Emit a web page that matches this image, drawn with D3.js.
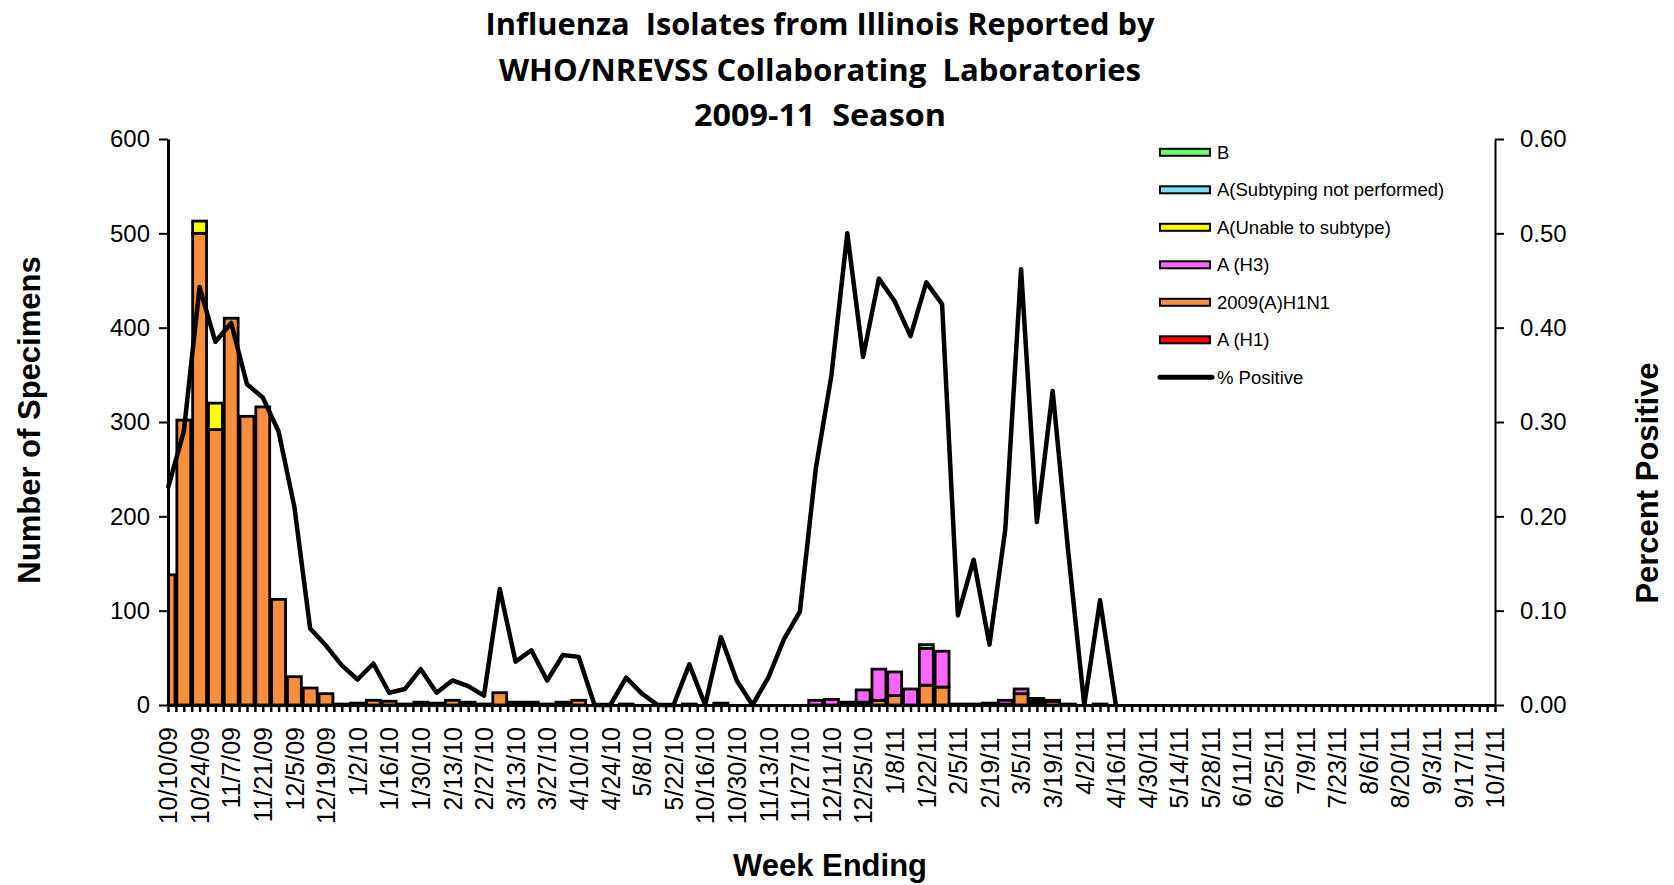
<!DOCTYPE html>
<html>
<head>
<meta charset="utf-8">
<title>Influenza Isolates from Illinois 2009-11</title>
<script src="https://cdn.jsdelivr.net/npm/d3@7"></script>
<style>
  body { margin: 0; background: #fff; }
  svg { display: block; font-family: "Liberation Sans", Arial, sans-serif; }
</style>
</head>
<body>
<script>
// week ending dates (summer 2010 is not in the chart)
const weeks = [
  "10/10/09","10/17/09","10/24/09","10/31/09","11/7/09","11/14/09","11/21/09","11/28/09","12/5/09","12/12/09","12/19/09","12/26/09","1/2/10","1/9/10","1/16/10","1/23/10","1/30/10",
  "2/6/10","2/13/10","2/20/10","2/27/10","3/6/10","3/13/10","3/20/10","3/27/10","4/3/10","4/10/10","4/17/10","4/24/10","5/1/10","5/8/10","5/15/10","5/22/10","5/29/10",
  "10/16/10","10/23/10","10/30/10","11/6/10","11/13/10","11/20/10","11/27/10","12/4/10","12/11/10","12/18/10","12/25/10","1/1/11","1/8/11","1/15/11","1/22/11","1/29/11","2/5/11",
  "2/12/11","2/19/11","2/26/11","3/5/11","3/12/11","3/19/11","3/26/11","4/2/11","4/9/11","4/16/11","4/23/11","4/30/11","5/7/11","5/14/11","5/21/11","5/28/11","6/4/11",
  "6/11/11","6/18/11","6/25/11","7/2/11","7/9/11","7/16/11","7/23/11","7/30/11","8/6/11","8/13/11","8/20/11","8/27/11","9/3/11","9/10/11","9/17/11","9/24/11","10/1/11"
];

const aH1 = [
  0,0,0,0,0,0,0,0,0,0,0,0,0,0,0,0,0,
  0,0,0,0,0,0,0,0,0,0,0,0,0,0,0,0,0,
  0,0,0,0,0,0,0,0,0,0,0,0,0,0,0,0,0,
  0,0,0,0,0,0,0,0,0,0,0,0,0,0,0,0,0,
  0,0,0,0,0,0,0,0,0,0,0,0,0,0,0,0,0
];
const h1n1 = [
  138,302,500,292,410,306,316,112,30,18,12,1,2,5,4,1,3,
  2,5,3,1,13,3,3,1,3,5,0,0,1,0,0,0,1,
  0,1,0,0,0,0,0,0,0,0,3,5,10,0,21,19,1,
  1,1,1,12,3,4,1,0,1,0,0,0,0,0,0,0,0,
  0,0,0,0,0,0,0,0,0,0,0,0,0,0,0,0,0
];
const aH3 = [
  0,0,0,0,0,0,0,0,0,0,0,0,0,0,0,0,0,
  0,0,0,0,0,0,0,0,0,0,0,0,0,0,0,0,0,
  0,1,0,0,0,0,0,5,6,3,13,33,25,17,39,38,0,
  0,1,4,5,1,1,0,0,0,0,0,0,0,0,0,0,0,
  0,0,0,0,0,0,0,0,0,0,0,0,0,0,0,0,0
];
const unable = [
  0,0,13,28,0,0,0,0,0,0,0,0,0,0,0,0,0,
  0,0,0,0,0,0,0,0,0,0,0,0,0,0,0,0,0,
  0,0,0,0,0,0,0,0,0,0,0,0,0,0,0,0,0,
  0,0,0,0,0,0,0,0,0,0,0,0,0,0,0,0,0,
  0,0,0,0,0,0,0,0,0,0,0,0,0,0,0,0,0
];
const notSubtyped = [
  0,0,0,0,0,0,0,0,0,0,0,0,0,0,0,0,0,
  0,0,0,0,0,0,0,0,0,0,0,0,0,0,0,0,0,
  0,0,0,0,0,0,0,0,0,0,0,0,0,0,0,0,0,
  0,0,0,0,0,0,0,0,0,0,0,0,0,0,0,0,0,
  0,0,0,0,0,0,0,0,0,0,0,0,0,0,0,0,0
];
const fluB = [
  0,0,0,0,0,0,0,0,0,0,0,0,0,0,0,0,0,
  0,0,0,0,0,0,0,0,0,0,0,0,0,0,0,0,0,
  0,0,0,0,0,0,0,0,0,0,0,0,0,0,4,0,0,
  0,0,0,0,3,0,0,0,0,0,0,0,0,0,0,0,0,
  0,0,0,0,0,0,0,0,0,0,0,0,0,0,0,0,0
];
const pctPositive = [
  0.23,0.29,0.443,0.385,0.405,0.34,0.326,0.29,0.21,0.081,0.063,0.042,0.027,0.044,0.013,0.017,0.038,
  0.013,0.026,0.020,0.010,0.123,0.046,0.058,0.026,0.053,0.051,0,0,0.029,0.012,0,0,0.043,
  0,0.072,0.026,0,0.029,0.070,0.099,0.25,0.35,0.50,0.369,0.452,0.428,0.391,0.448,0.425,0.095,
  0.154,0.064,0.186,0.462,0.194,0.333,0.16,0,0.111,0,null,null,null,null,null,null,null,
  null,null,null,null,null,null,null,null,null,null,null,null,null,null,null,null,null
];

const leftTicks = [0, 100, 200, 300, 400, 500, 600];
const rightTicks = [0, 0.1, 0.2, 0.3, 0.4, 0.5, 0.6];
const titleLines = ["Influenza  Isolates from Illinois Reported by", "WHO/NREVSS Collaborating  Laboratories", "2009-11  Season"];

const series = [
  {key: "b", label: "B", values: fluB, color: "#66FF66"},
  {key: "notSub", label: "A(Subtyping not performed)", values: notSubtyped, color: "#70E2F8"},
  {key: "unable", label: "A(Unable to subtype)", values: unable, color: "#FFFF00"},
  {key: "h3", label: "A (H3)", values: aH3, color: "#FF66FF"},
  {key: "pdm", label: "2009(A)H1N1", values: h1n1, color: "#F98E3C"},
  {key: "h1", label: "A (H1)", values: aH1, color: "#FF0000"}
];

const W = 1674, H = 885;
const plot = {left: 168, right: 1495, top: 139, bottom: 705};

const svg = d3.select("body").append("svg").attr("width", W).attr("height", H);

const x = d3.scalePoint().domain(weeks).range([plot.left, plot.right]);
const xi = d3.scaleLinear().domain([0, weeks.length - 1]).range([plot.left, plot.right]);
const y = d3.scaleLinear().domain([0, 600]).range([plot.bottom, plot.top]);
const y2 = d3.scaleLinear().domain([0, 0.6]).range([plot.bottom, plot.top]);
const barW = x.step() * 0.88;

// stacked bars, bottom layer first
const rows = weeks.map((w, i) => {
  const r = {week: w};
  series.forEach(s => r[s.key] = s.values[i]);
  return r;
});
const stackKeys = series.map(s => s.key).reverse();
const colorOf = Object.fromEntries(series.map(s => [s.key, s.color]));
const stacked = d3.stack().keys(stackKeys)(rows);

svg.append("clipPath").attr("id", "plotclip")
  .append("rect")
  .attr("x", plot.left).attr("y", plot.top - 5)
  .attr("width", plot.right - plot.left).attr("height", plot.bottom - plot.top + 5);

svg.append("g")
  .attr("clip-path", "url(#plotclip)")
  .selectAll("g")
  .data(stacked)
  .join("g")
  .attr("fill", d => colorOf[d.key])
  .selectAll("rect")
  .data(d => d.filter(s => s[1] - s[0] > 0))
  .join("rect")
  .attr("x", d => x(d.data.week) - barW / 2)
  .attr("y", d => y(d[1]))
  .attr("width", barW)
  .attr("height", d => y(d[0]) - y(d[1]))
  .attr("stroke", "#000")
  .attr("stroke-width", 2.8);

// axes
const gl = svg.append("g")
  .attr("transform", `translate(${plot.left},0)`)
  .call(d3.axisLeft(y).tickValues(leftTicks).tickSize(9).tickSizeOuter(0).tickPadding(9));
gl.select(".domain").attr("stroke-width", 3);
gl.selectAll(".tick line").attr("stroke-width", 2);

const gr = svg.append("g")
  .attr("transform", `translate(${plot.right},0)`)
  .call(d3.axisRight(y2).tickValues(rightTicks).tickFormat(d3.format(".2f")).tickSize(9).tickSizeOuter(0).tickPadding(16));
gr.select(".domain").attr("stroke-width", 2);
gr.selectAll(".tick line").attr("stroke-width", 2);

svg.selectAll(".tick text").attr("font-size", 24).attr("fill", "#000")
  .attr("font-family", "'Liberation Sans', Arial, sans-serif");

const gm = svg.append("g")
  .attr("transform", `translate(0,${plot.bottom})`)
  .call(d3.axisBottom(xi).tickValues(d3.range(0, weeks.length - 0.5, 0.5)).tickFormat("").tickSize(7).tickSizeOuter(0));
gm.select(".domain").attr("stroke-width", 3);
gm.selectAll(".tick line").attr("stroke-width", 2.5);

const gx = svg.append("g")
  .attr("transform", `translate(0,${plot.bottom})`)
  .call(d3.axisBottom(x).tickValues(weeks.filter((w, i) => i % 2 === 0)).tickSize(0));
gx.select(".domain").remove();
gx.selectAll(".tick text")
  .attr("font-size", 25)
  .attr("fill", "#000")
  .attr("font-family", "'Liberation Sans', Arial, sans-serif")
  .attr("transform", "rotate(-90)")
  .attr("text-anchor", "end")
  .attr("x", -22)
  .attr("y", 0)
  .attr("dy", "0.35em");

// % positive line
const line = d3.line()
  .defined(d => d != null)
  .x((d, i) => x(weeks[i]))
  .y(d => y2(d));
svg.append("path")
  .datum(pctPositive)
  .attr("fill", "none")
  .attr("stroke", "#000")
  .attr("stroke-width", 4.5)
  .attr("stroke-linejoin", "round")
  .attr("d", line);

// titles
const titleWidths = [669, 642, 252];
svg.append("g")
  .selectAll("text")
  .data(titleLines)
  .join("text")
  .attr("x", 820)
  .attr("y", (d, i) => 35 + i * 45.5)
  .attr("text-anchor", "middle")
  .attr("font-family", "'Open Sans', Lato, sans-serif")
  .attr("font-weight", "bold")
  .attr("font-size", 31)
  .attr("textLength", (d, i) => titleWidths[i])
  .attr("lengthAdjust", "spacingAndGlyphs")
  .style("white-space", "pre")
  .text(d => d);

svg.append("text")
  .attr("transform", "translate(29,420) rotate(-90)")
  .attr("text-anchor", "middle").attr("dy", "0.35em")
  .attr("font-weight", "bold").attr("font-size", 31)
  .text("Number of Specimens");

svg.append("text")
  .attr("transform", "translate(1647,483) rotate(-90)")
  .attr("text-anchor", "middle").attr("dy", "0.35em")
  .attr("font-weight", "bold").attr("font-size", 31)
  .text("Percent Positive");

svg.append("text")
  .attr("x", 830).attr("y", 876)
  .attr("text-anchor", "middle")
  .attr("font-weight", "bold").attr("font-size", 31)
  .text("Week Ending");

// legend
const legendItems = series.map(s => ({label: s.label, color: s.color}))
  .concat([{label: "% Positive", color: null}]);
const lg = svg.append("g")
  .selectAll("g")
  .data(legendItems)
  .join("g")
  .attr("transform", (d, i) => `translate(1160,${152.3 + i * 37.5})`);
lg.filter(d => d.color)
  .append("rect")
  .attr("x", 0).attr("y", -3.5)
  .attr("width", 50).attr("height", 7)
  .attr("fill", d => d.color)
  .attr("stroke", "#000").attr("stroke-width", 2);
lg.filter(d => !d.color)
  .append("line")
  .attr("x1", 0).attr("x2", 52).attr("y1", 0).attr("y2", 0)
  .attr("stroke", "#000").attr("stroke-width", 5).attr("stroke-linecap", "round");
lg.append("text")
  .attr("x", 57).attr("dy", "0.36em")
  .attr("font-size", 18.5)
  .text(d => d.label);
</script>
</body>
</html>
